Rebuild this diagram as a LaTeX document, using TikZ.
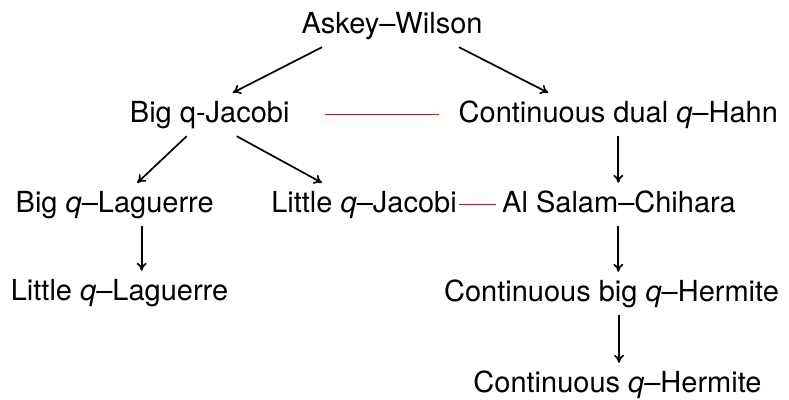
\documentclass[tikz,border=0pt]{standalone}
\usepackage{fontspec}
\setmainfont{TeX Gyre Heros}
\usetikzlibrary{arrows.meta}
\begin{document}
\begin{tikzpicture}[x=1pt,y=-1pt,
  family/.style={anchor=base, inner xsep=2pt, inner ysep=7pt,
    text height=22pt, text depth=7pt,
    font=\fontsize{29}{35}\selectfont},
  limit/.style={draw, line width=1.7pt, -{To[length=8pt,width=10pt]}},
  link/.style={draw=red, line width=1.8pt}]
  \useasboundingbox (0,0) rectangle (789,399);

  % families of q-orthogonal polynomials
  \node[family] (aw)  at (392,33)    {Askey–Wilson};
  \node[family] (bqj) at (209.7,122) {Big q-Jacobi};
  \node[family] (cdq) at (618.3,122) {Continuous dual \textit{q}–Hahn};
  \node[family] (bql) at (114.7,212) {Big \textit{q}–Laguerre};
  \node[family] (lqj) at (364,212)   {Little \textit{q}–Jacobi};
  \node[family] (as)  at (619,212)   {Al Salam–Chihara};
  \node[family] (lql) at (119.5,300) {Little \textit{q}–Laguerre};
  \node[family] (cbq) at (611.5,301) {Continuous big \textit{q}–Hermite};
  \node[family] (cqh) at (617.5,392) {Continuous \textit{q}–Hermite};

  % limit relations
  \draw[limit] ([xshift=-70pt]aw.south) -- ([xshift=23pt]bqj.north);
  \draw[limit] ([xshift=67pt]aw.south) -- ([xshift=-70pt]cdq.north);
  \draw[limit] ([xshift=-23pt]bqj.south) -- ([xshift=22.6pt]bql.north);
  \draw[limit] ([xshift=27pt]bqj.south) -- ([xshift=-42pt]lqj.north);
  \draw[limit] ([xshift=27pt]bql.south) -- ([xshift=27pt]bql.south |- lql.north);
  \draw[limit] (cdq.south) -- (cdq.south |- as.north);
  \draw[limit] ([xshift=-0.7pt]as.south) -- ([xshift=-0.7pt]as.south |- cbq.north);
  \draw[limit] ([xshift=7.5pt]cbq.south) -- ([xshift=7.5pt]cbq.south |- cqh.north);

  % links between families
  \draw[link] ([xshift=33pt]bqj.east) -- ([xshift=-18pt]cdq.west);
  \draw[link] (lqj.east) -- ([xshift=-4pt]as.west);
\end{tikzpicture}
\end{document}
